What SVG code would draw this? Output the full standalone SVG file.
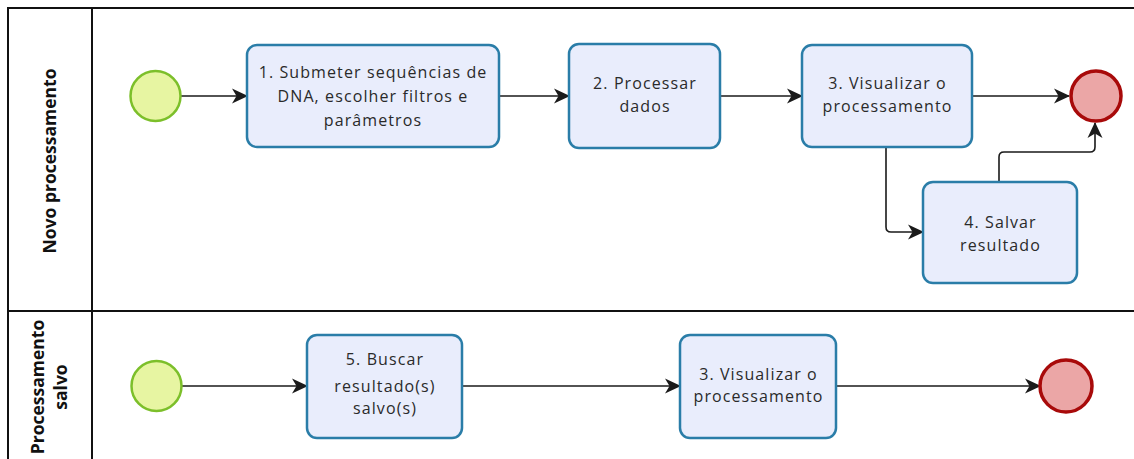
<svg xmlns="http://www.w3.org/2000/svg" width="1134" height="459" viewBox="0 0 1134 459">
  <style>
    .lane { fill: none; stroke: #111; stroke-width: 2; }
    .lane-label { font-family: "Open Sans", "Noto Sans", sans-serif; font-weight: bold; font-size: 17.5px; fill: #111; text-anchor: middle; }
    .task { fill: #E9EDFC; stroke: #2A7DA8; stroke-width: 2.5; }
    .task-text { font-family: "Open Sans", "Noto Sans", sans-serif; font-size: 16px; letter-spacing: 1.1px; fill: #2a2a2a; text-anchor: middle; }
    .start { fill: #E7F5A2; stroke: #7CBF2A; stroke-width: 2.5; }
    .end { fill: #EBA6A6; stroke: #A80A0A; stroke-width: 3.5; }
    .flow { fill: none; stroke: #1a1a1a; stroke-width: 1.6; marker-end: url(#arrow); }
  </style>
  <defs>
    <!-- filled notched arrowhead for sequence flows -->
    <marker id="arrow" viewBox="0 0 16 16" refX="15" refY="8" markerWidth="16" markerHeight="16" markerUnits="userSpaceOnUse" orient="auto">
      <path d="M0,0.5 L16,8 L0,15.5 L4.5,8 Z" fill="#1a1a1a"/>
    </marker>
  </defs>

  <rect width="1134" height="459" fill="#ffffff"/>

  <!-- pool and lanes -->
  <g id="pool">
    <path class="lane" d="M1134,8 H8 V459"/>
    <path class="lane" d="M92,8 V459"/>
    <path class="lane" d="M8,311 H1134"/>
    <text class="lane-label" transform="translate(56,161) rotate(-90)">Novo processamento</text>
    <text class="lane-label" transform="translate(44,387) rotate(-90)">Processamento</text>
    <text class="lane-label" transform="translate(67,387) rotate(-90)">salvo</text>
  </g>

  <!-- sequence flows -->
  <g id="connectors">
    <path class="flow" d="M181,96 H247"/>
    <path class="flow" d="M499,96 H569"/>
    <path class="flow" d="M720,96 H802"/>
    <path class="flow" d="M972,96 H1069"/>
    <path class="flow" d="M886,148 V227 Q886,232 891,232 H923"/>
    <path class="flow" d="M999,182 V157 Q999,152 1004,152 H1090 Q1095,152 1095,147 V123"/>
    <path class="flow" d="M182,386 H307"/>
    <path class="flow" d="M462,386 H680"/>
    <path class="flow" d="M836,386 H1040"/>
  </g>

  <g id="start1"><circle class="start" cx="155.5" cy="96" r="25"/></g>
  <g id="task1">
    <rect class="task" x="247" y="45" width="252" height="102" rx="10"/>
    <text class="task-text"><tspan x="373" y="78">1. Submeter sequências de</tspan><tspan x="373" y="102">DNA, escolher filtros e</tspan><tspan x="373" y="126">parâmetros</tspan></text>
  </g>
  <g id="task2">
    <rect class="task" x="569" y="44" width="151" height="104" rx="10"/>
    <text class="task-text"><tspan x="645" y="89">2. Processar</tspan><tspan x="645" y="112">dados</tspan></text>
  </g>
  <g id="task3">
    <rect class="task" x="802" y="45" width="170" height="102" rx="10"/>
    <text class="task-text"><tspan x="887.5" y="89">3. Visualizar o</tspan><tspan x="887.5" y="112">processamento</tspan></text>
  </g>
  <g id="end1"><circle class="end" cx="1096" cy="96" r="25"/></g>
  <g id="task4">
    <rect class="task" x="923" y="182" width="154" height="101" rx="10"/>
    <text class="task-text"><tspan x="1000.5" y="228">4. Salvar</tspan><tspan x="1000.5" y="251">resultado</tspan></text>
  </g>

  <g id="start2"><circle class="start" cx="156.5" cy="386" r="25"/></g>
  <g id="task5">
    <rect class="task" x="307" y="335" width="155" height="103" rx="10"/>
    <text class="task-text"><tspan x="385" y="365">5. Buscar</tspan><tspan x="385" y="392">resultado(s)</tspan><tspan x="385" y="414">salvo(s)</tspan></text>
  </g>
  <g id="task3b">
    <rect class="task" x="680" y="335" width="156" height="103" rx="10"/>
    <text class="task-text"><tspan x="758.5" y="380">3. Visualizar o</tspan><tspan x="758.5" y="402">processamento</tspan></text>
  </g>
  <g id="end2"><circle class="end" cx="1066" cy="386" r="26"/></g>
</svg>
